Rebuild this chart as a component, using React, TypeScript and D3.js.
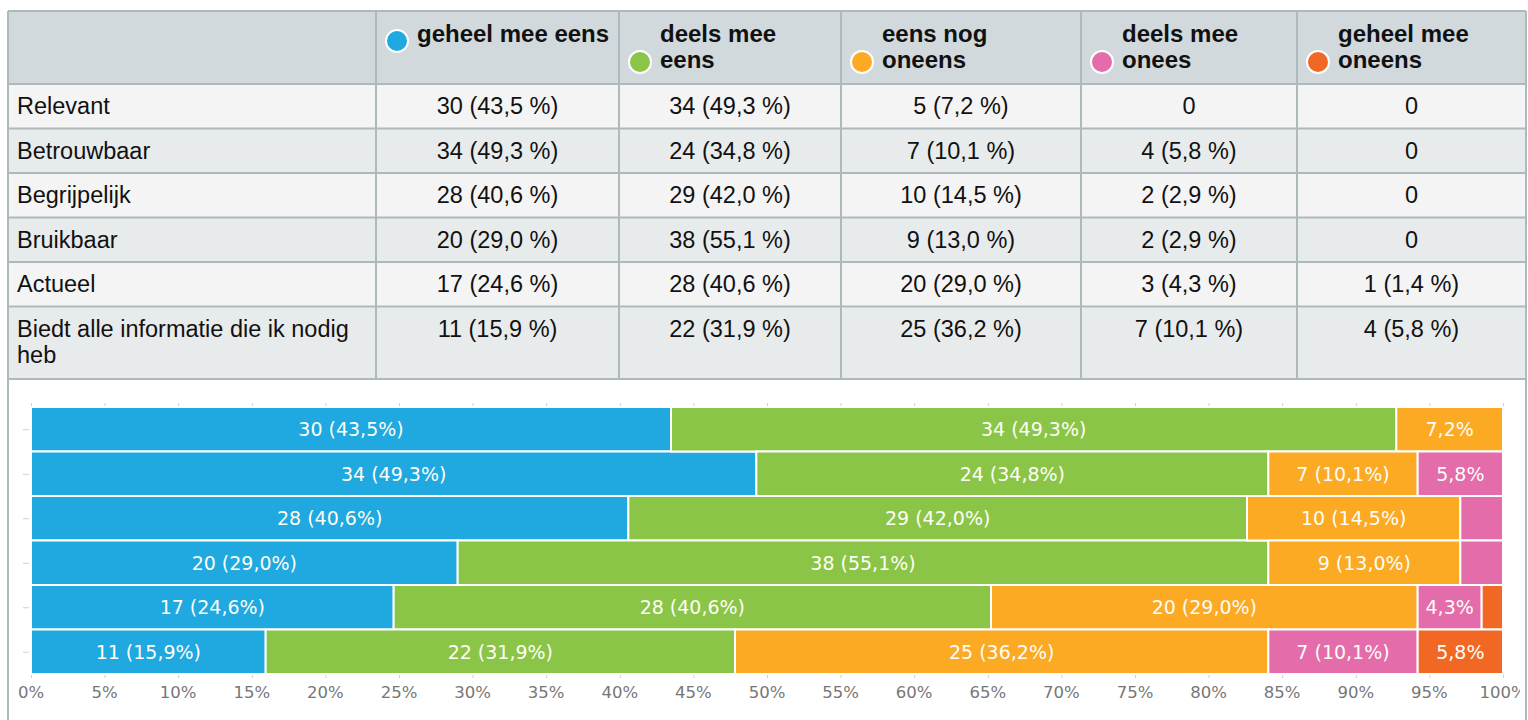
import React from "react";
import * as d3 from "d3";

// answer categories (table columns / stacked series)
const categories = [
  "geheel mee eens",
  "deels mee eens",
  "eens nog oneens",
  "deels mee onees",
  "geheel mee oneens",
];
const headerLines = [
  ["geheel mee eens"],
  ["deels mee", "eens"],
  ["eens nog", "oneens"],
  ["deels mee", "onees"],
  ["geheel mee", "oneens"],
];
const colors = ["#1fa9e0", "#8bc548", "#fca924", "#e46caa", "#f16825"];

// questions (table rows / bars)
const questions = [
  "Relevant",
  "Betrouwbaar",
  "Begrijpelijk",
  "Bruikbaar",
  "Actueel",
  "Biedt alle informatie die ik nodig heb",
];
const questionLines = [
  ["Relevant"],
  ["Betrouwbaar"],
  ["Begrijpelijk"],
  ["Bruikbaar"],
  ["Actueel"],
  ["Biedt alle informatie die ik nodig", "heb"],
];

// counts per category, one value per question
const geheelMeeEens = [30, 34, 28, 20, 17, 11];
const deelsMeeEens = [34, 24, 29, 38, 28, 22];
const eensNogOneens = [5, 7, 10, 9, 20, 25];
const deelsMeeOnees = [0, 4, 2, 2, 3, 7];
const geheelMeeOneens = [0, 0, 0, 0, 1, 4];

const xTicks = [0, 5, 10, 15, 20, 25, 30, 35, 40, 45, 50, 55, 60, 65, 70, 75, 80, 85, 90, 95, 100];

const series = [geheelMeeEens, deelsMeeEens, eensNogOneens, deelsMeeOnees, geheelMeeOneens];

const rows = questions.map((q, i) => {
  const row: any = { question: q };
  categories.forEach((c, j) => (row[c] = series[j][i]));
  row.total = d3.sum(series, (s) => s[i]);
  return row;
});

const fmt1 = (v: number) => d3.format(".1f")(v).replace(".", ",");

const W = 1528;
const H = 720;

// table layout
const tLeft = 8;
const tRight = 1526;
const tTop = 11;
const headBottom = 84;
const rowBottoms = [128.5, 173, 217.5, 262, 306.5, 379];
const colEdges = [376, 619, 841, 1081, 1297, tRight];
const border = "#aeb9be";

const tableFont = "'Liberation Sans', Arial, sans-serif";
const chartFont = "'DejaVu Sans', sans-serif";

export default function App() {
  const x = d3.scaleLinear().domain([0, 100]).range([31, 1503]);
  const y = d3.scaleBand<string>().domain(questions).range([407, 674]).padding(0);

  const stack = d3
    .stack<any>()
    .keys(categories)
    .value((d, key) => (d[key] / d.total) * 100);
  const stacked = stack(rows);

  const rowTops = [headBottom, ...rowBottoms.slice(0, -1)];

  return (
    <div style={{ position: "absolute", left: 0, top: 0 }}>
      <svg width={W} height={H} style={{ display: "block", background: "#fff" }}>
        <defs>
          <clipPath id="chartClip">
            <rect x={tLeft + 1} y={380} width={1519 - tLeft} height={H - 380} />
          </clipPath>
        </defs>

        {/* header */}
        <rect x={tLeft} y={tTop} width={tRight - tLeft} height={headBottom - tTop} fill="#d1d9dd" />
        {rows.map((r, i) => (
          <rect
            key={r.question}
            x={tLeft}
            y={rowTops[i]}
            width={tRight - tLeft}
            height={rowBottoms[i] - rowTops[i]}
            fill={i % 2 === 0 ? "#f4f4f4" : "#e8ebec"}
          />
        ))}

        {/* grid lines */}
        <g stroke={border} strokeWidth={2}>
          <line x1={tLeft} x2={tRight} y1={tTop} y2={tTop} />
          <line x1={tLeft} x2={tRight} y1={headBottom} y2={headBottom} />
          {rowBottoms.map((b, i) => (
            <line key={i} x1={tLeft} x2={tRight} y1={b} y2={b} />
          ))}
          {colEdges.slice(0, -1).map((cx, i) => (
            <line key={i} x1={cx} x2={cx} y1={tTop} y2={rowBottoms[rowBottoms.length - 1]} />
          ))}
          <line x1={tLeft} x2={tLeft} y1={tTop} y2={H} />
          <line x1={tRight} x2={tRight} y1={tTop} y2={H} />
        </g>

        {/* header labels */}
        <g fontFamily={tableFont} fontSize={24} fontWeight="bold" fill="#111">
          {headerLines.map((lines, j) => {
            const left = colEdges[j];
            const cy = lines.length === 1 ? 41 : 62;
            return (
              <g key={categories[j]}>
                <circle cx={left + 21} cy={cy} r={11} fill={colors[j]} stroke="#fff" strokeWidth={2} />
                {lines.map((ln, k) => (
                  <text key={k} x={left + 41} y={42 + k * 26}>
                    {ln}
                  </text>
                ))}
              </g>
            );
          })}
        </g>

        {/* body cells */}
        <g fontFamily={tableFont} fontSize={23.5} fill="#111">
          {rows.map((r, i) => (
            <g key={r.question}>
              {questionLines[i].map((ln, k) => (
                <text key={k} x={17} y={rowTops[i] + 30 + k * 26}>
                  {ln}
                </text>
              ))}
              {categories.map((c, j) => {
                const v = r[c];
                const label = v === 0 ? "0" : `${v} (${fmt1((v / r.total) * 100)} %)`;
                return (
                  <text
                    key={c}
                    x={(colEdges[j] + colEdges[j + 1]) / 2}
                    y={rowTops[i] + 30}
                    textAnchor="middle"
                  >
                    {label}
                  </text>
                );
              })}
            </g>
          ))}
        </g>

        {/* chart */}
        <g clipPath="url(#chartClip)">
          <g stroke="#cfcfcf" strokeWidth={1}>
            {xTicks.map((t) => (
              <g key={t}>
                <line x1={x(t) + 0.5} x2={x(t) + 0.5} y1={403} y2={407} />
                <line x1={x(t) + 0.5} x2={x(t) + 0.5} y1={674} y2={678} />
              </g>
            ))}
          </g>
          <g stroke="#c4d2e0" strokeWidth={1}>
            {questions.map((q) => (
              <line key={q} x1={23} x2={29} y1={y(q)! + y.bandwidth() / 2 + 0.5} y2={y(q)! + y.bandwidth() / 2 + 0.5} />
            ))}
          </g>

          {stacked.map((s, j) => (
            <g key={s.key} fill={colors[j]}>
              {s.map((d) => {
                const share = d[1] - d[0];
                if (share <= 0) return null;
                const q = d.data.question;
                return (
                  <rect
                    key={q}
                    x={x(d[0])}
                    y={y(q)}
                    width={x(d[1]) - x(d[0])}
                    height={y.bandwidth()}
                    stroke="#fff"
                    strokeWidth={2}
                  />
                );
              })}
            </g>
          ))}

          <g fontFamily={chartFont} fontSize={19} fill="#fdfdf5" textAnchor="middle">
            {stacked.map((s) =>
              s.map((d) => {
                const share = d[1] - d[0];
                const count = d.data[s.key];
                let label = "";
                if (share >= 9.5) label = `${count} (${fmt1(share)}%)`;
                else if (share >= 4) label = `${fmt1(share)}%`;
                if (!label) return null;
                const q = d.data.question;
                return (
                  <text key={s.key + q} x={(x(d[0]) + x(d[1])) / 2} y={y(q)! + y.bandwidth() / 2 + 7}>
                    {label}
                  </text>
                );
              })
            )}
          </g>

          <g fontFamily={chartFont} fontSize={16.5} fill="#777" textAnchor="middle">
            {xTicks.map((t) => (
              <text key={t} x={x(t)} y={698}>
                {t}%
              </text>
            ))}
          </g>
        </g>
      </svg>
    </div>
  );
}
